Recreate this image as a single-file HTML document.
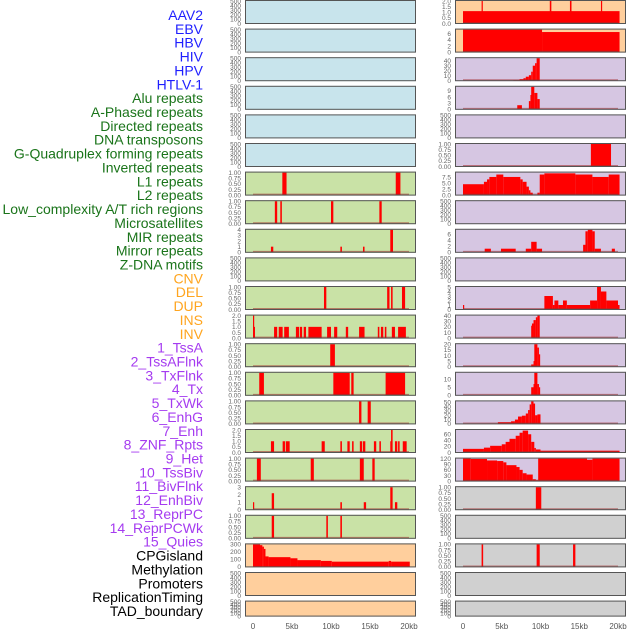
<!DOCTYPE html>
<html><head><meta charset="utf-8">
<style>
html,body{margin:0;padding:0;background:#fff;}
svg{display:block;font-family:"Liberation Sans",sans-serif;}
</style></head>
<body>
<svg id="chart" width="630" height="630" viewBox="0 0 630 630" xmlns="http://www.w3.org/2000/svg"></svg>
<script>
// ---- track labels ----
const labels = ["AAV2","EBV","HBV","HIV","HPV","HTLV-1","Alu repeats","A-Phased repeats","Directed repeats","DNA transposons","G-Quadruplex forming repeats","Inverted repeats","L1 repeats","L2 repeats","Low_complexity A/T rich regions","Microsatellites","MIR repeats","Mirror repeats","Z-DNA motifs","CNV","DEL","DUP","INS","INV","1_TssA","2_TssAFlnk","3_TxFlnk","4_Tx","5_TxWk","6_EnhG","7_Enh","8_ZNF_Rpts","9_Het","10_TssBiv","11_BivFlnk","12_EnhBiv","13_ReprPC","14_ReprPCWk","15_Quies","CPGisland","Methylation","Promoters","ReplicationTiming","TAD_boundary"];
const labelColors = ["#1f1fff","#1f1fff","#1f1fff","#1f1fff","#1f1fff","#1f1fff","#1a741a","#1a741a","#1a741a","#1a741a","#1a741a","#1a741a","#1a741a","#1a741a","#1a741a","#1a741a","#1a741a","#1a741a","#1a741a","#ffa51f","#ffa51f","#ffa51f","#ffa51f","#ffa51f","#a53bf0","#a53bf0","#a53bf0","#a53bf0","#a53bf0","#a53bf0","#a53bf0","#a53bf0","#a53bf0","#a53bf0","#a53bf0","#a53bf0","#a53bf0","#a53bf0","#a53bf0","#000","#000","#000","#000","#000"];
// ---- x axis ----
const xTickKb = [0,5,10,15,20];
const xTickLabels = ["0","5kb","10kb","15kb","20kb"];
// ---- y ticks ----
const ticksEmpty = [0,100,200,300,400,500];
const ticks01 = [0,0.25,0.5,0.75,1];
// ---- left column series: [startKb, endKb, value] ----
const L6 = [[3.76,4.3,1],[18.3,18.9,1]];
const L7 = [[2.8,3.1,1],[3.5,3.7,1],[10.0,10.3,1],[16.2,16.5,1]];
const L8 = [[2.3,2.6,1],[11.2,11.4,1],[14.1,14.3,1],[17.6,17.95,4]];
const L10 = [[9.1,9.4,1],[17.2,17.5,1],[17.7,17.9,1],[19.1,19.5,1]];
const L11 = [[0,0.1,2],[0.1,0.2,1],[2.7,3.1,1],[3.3,3.8,1],[4.0,4.6,1],[5.5,5.9,1],[6.0,6.3,1],[6.5,6.8,1],[7.1,8.8,1],[9.5,10.0,1],[10.4,10.8,1],[11.9,12.2,1],[13.6,14.3,1],[16.0,16.2,1],[16.4,16.7,1],[16.9,17.1,1],[17.8,18.2,1],[18.6,19.6,1]];
const L12 = [[9.9,10.5,1]];
const L13 = [[0.8,1.4,1],[10.3,12.4,1],[12.6,12.9,1],[17.0,19.5,1]];
const L14 = [[13.6,13.9,1],[14.7,15.1,1]];
const L15 = [[2.3,2.7,1],[3.8,4.1,1],[4.2,4.7,1],[8.8,9.2,1],[11.2,11.4,1],[12.1,12.4,1],[12.7,12.9,1],[13.7,14.0,1],[14.1,14.4,1],[15.5,15.8,1],[16.2,16.4,1],[17.6,17.8,1],[17.7,17.9,2],[18.2,18.5,1],[18.6,18.8,1],[19.2,19.7,1]];
const L16 = [[0.5,1.0,1],[7.4,7.8,1],[13.7,14.2,1],[15.3,15.6,1]];
const L17 = [[0,0.1,1],[2.4,2.7,2.2],[11.2,11.4,1],[14.2,14.5,1],[17.6,17.9,3],[18.2,18.5,1]];
const L18 = [[2.4,2.7,1],[9.4,9.6,1],[11.2,11.4,1]];
const L19 = [[0,0.9,300],[0.9,1.2,290],[1.2,1.4,270],[1.4,1.6,240],[1.6,2.0,140],[2.0,4.8,130],[4.8,5.7,115],[5.7,8.7,90],[8.7,10.1,80],[10.1,17.4,70],[17.4,17.7,80],[17.7,20.1,70]];
// ---- right column series ----
const R0 = [[0,20.2,1.1],[2.4,2.5,2],[11.2,11.4,2],[13.8,14.0,2],[17.8,17.9,2]];
const R1 = [[0,10.2,7.4],[10.2,20.2,6.6]];
const R2 = [[6.5,7.3,1],[7.3,7.8,3],[7.8,8.1,5],[8.1,8.5,8],[8.5,8.8,11],[8.8,9.0,18],[9.0,9.3,30],[9.3,9.5,35],[9.5,9.9,45]];
const R3 = [[7.0,7.6,2],[8.5,8.7,4],[8.7,8.8,7],[8.8,9.2,11],[9.2,9.6,8],[9.6,9.9,5]];
const R5 = [[16.5,19.1,1]];
const R6 = [[0,2.7,4.5],[2.7,3.1,5.5],[3.1,3.4,6.5],[3.4,4.3,7.5],[4.3,5.2,8.5],[5.2,7.4,7.5],[7.4,7.7,6.5],[7.7,8.2,5.5],[8.2,8.5,3.5],[8.5,8.7,2],[8.7,9.0,1],[9.6,9.9,1],[9.9,10.5,8.5],[10.5,14.5,9],[14.5,16.7,8.5],[16.7,18.8,7.5],[18.8,20.2,8.5]];
const R8 = [[2.8,3.6,1.2],[4.9,6.8,1.2],[8.1,8.8,1.2],[8.8,9.5,3.5],[9.5,10.2,1.2],[15.5,15.8,2.5],[15.8,16.1,7],[16.1,16.7,7.5],[16.7,17.0,7],[17.0,17.8,1.2],[19.2,19.6,1.2]];
const R10 = [[0,0.1,1],[10.5,11.6,3],[11.6,11.8,1],[11.8,12.3,2],[12.3,12.9,1],[12.9,13.4,2],[13.4,16.4,1],[16.4,17.3,2],[17.3,17.8,5],[17.8,18.5,4],[18.5,20.0,2],[20.0,20.2,1]];
const R11 = [[8.8,8.9,22],[8.9,9.1,26],[9.1,9.4,32],[9.4,9.6,37],[9.6,9.9,40]];
const R12 = [[8.8,9.1,2],[9.1,9.2,5],[9.2,9.6,20],[9.6,9.8,17],[9.8,9.9,11]];
const R13 = [[8.8,9.1,5],[9.1,9.2,7],[9.2,9.6,14],[9.6,9.8,7],[9.8,9.9,5]];
const R14 = [[4.5,6.2,4],[6.2,6.7,6],[6.7,7.1,10],[7.1,7.6,17],[7.6,8.1,19],[8.1,8.4,24],[8.4,8.6,32],[8.6,8.8,45],[8.8,9.1,52],[9.1,9.3,47],[9.3,9.6,20],[9.6,10.0,22]];
const R15 = [[0,2.7,12],[2.7,3.5,16],[3.5,5.0,22],[5.0,5.5,27],[5.5,6.0,35],[6.0,6.8,45],[6.8,7.3,55],[7.3,7.7,65],[7.7,8.4,72],[8.4,8.8,60],[8.8,9.2,35],[9.2,9.4,15],[9.4,10.0,10],[10.0,20.2,6]];
const R16 = [[0,1.0,120],[1.0,3.1,118],[3.1,4.4,110],[4.4,5.2,107],[5.2,5.6,100],[5.6,6.9,85],[6.9,7.3,75],[7.3,7.7,60],[7.7,8.2,42],[8.2,9.0,35],[9.0,9.4,10],[9.4,9.7,5],[9.7,16.0,120],[16.0,16.7,114],[16.7,20.2,120]];
const R17 = [[9.4,10.1,1]];
const R19 = [[2.4,2.6,1],[9.5,9.9,1],[14.2,14.5,1]];

const BLUE="#c8e4ec", GREEN="#c9e2a6", ORANGE="#ffcf9d", PURPLE="#d6c6e2", GRAY="#d0d0d0";
function P(bars,ymax,ticks,tl,bg){return {bars,ymax,ticks,tl,bg};}
const tf2=v=>v.toFixed(2), tf1=v=>v.toFixed(1), ti=v=>String(v);
const E = bg=>P(null,500,ticksEmpty,ti,bg);
const leftPanels = [E(BLUE),E(BLUE),E(BLUE),E(BLUE),E(BLUE),E(BLUE),
 P(L6,1,ticks01,tf2,GREEN),P(L7,1,ticks01,tf2,GREEN),P(L8,4,[0,1,2,3,4],ti,GREEN),E(GREEN),
 P(L10,1,ticks01,tf2,GREEN),P(L11,2,[0,0.5,1,1.5,2],tf1,GREEN),P(L12,1,ticks01,tf2,GREEN),
 P(L13,1,ticks01,tf2,GREEN),P(L14,1,ticks01,tf2,GREEN),P(L15,2,[0,0.5,1,1.5,2],tf1,GREEN),
 P(L16,1,ticks01,tf2,GREEN),P(L17,3,[0,1,2,3],ti,GREEN),P(L18,1,ticks01,tf2,GREEN),
 P(L19,300,[0,100,200,300],ti,ORANGE),E(ORANGE),E(ORANGE)];
const rightPanels = [P(R0,2,[0,0.5,1,1.5,2],tf1,ORANGE),P(R1,7.4,[0,2,4,6],ti,ORANGE),
 P(R2,45,[0,10,20,30,40],ti,PURPLE),P(R3,11,[0,3,6,9],ti,PURPLE),E(PURPLE),P(R5,1,ticks01,tf2,PURPLE),
 P(R6,9.3,[0,2.5,5,7.5],tf1,PURPLE),E(PURPLE),P(R8,7.5,[0,2,4,6],ti,PURPLE),E(PURPLE),
 P(R10,5,[0,1,2,3,4,5],ti,PURPLE),P(R11,40,[0,10,20,30,40],ti,PURPLE),P(R12,20,[0,5,10,15,20],ti,PURPLE),
 P(R13,14,[0,5,10],ti,PURPLE),P(R14,52,[0,10,20,30,40,50],ti,PURPLE),P(R15,74,[0,20,40,60],ti,PURPLE),
 P(R16,120,[0,30,60,90,120],ti,PURPLE),P(R17,1,ticks01,tf2,GRAY),E(GRAY),P(R19,1,ticks01,tf2,GRAY),E(GRAY),E(GRAY)];

const NS="http://www.w3.org/2000/svg";
const svg=document.getElementById('chart');
function el(tag,attrs,parent){const e=document.createElementNS(NS,tag);for(const k in attrs)e.setAttribute(k,attrs[k]);(parent||svg).appendChild(e);return e;}

// labels
labels.forEach((t,i)=>{
  const e=el('text',{x:203,y:15+i*13.86+5,'text-anchor':'end','font-size':14,fill:labelColors[i]});
  e.textContent=t;
  
  
});

const cols=[{x0:245,x1:416,z:253,k:7.8,panels:leftPanels,name:'left'},{x0:455,x1:626,z:463,k:7.75,panels:rightPanels,name:'right'}];
cols.forEach(c=>{
  const xs=kb=>c.z+kb*c.k;
  c.panels.forEach((p,i)=>{
    const top=i*28.6, h=(i===21)?16:24, bot=top+h;
    const g=el('g',{});
    
    
    el('rect',{x:c.x0,y:top,width:c.x1-c.x0,height:h,fill:p.bg},g);
    const ys=v=>bot-0.5-(v/p.ymax)*(h-1.5);
    if(p.bars){
      p.bars.forEach(b=>{
        const r=el('rect',{x:xs(b[0]),y:ys(b[2]),width:Math.max(1.2,xs(b[1])-xs(b[0])),height:bot-0.5-ys(b[2]),fill:'#ff0000'},g);
        
        
      });
      if(i!==19||c.name==='right'){
        el('line',{x1:xs(0),x2:xs(20),y1:bot-1.2,y2:bot-1.2,stroke:'rgba(160,40,40,0.55)','stroke-width':1.5},g);
      }
    }
    el('rect',{x:c.x0+0.5,y:top+0.5,width:c.x1-c.x0-1,height:h-1,fill:'none',stroke:'#555','stroke-width':1},g);
    p.ticks.forEach(v=>{
      const t=el('text',{x:c.x0-4,y:ys(v)+2.3,'text-anchor':'end','font-size':6.5,fill:'#666'},g);
      t.textContent=p.tl(v);
      
      
    });
  });
  xTickKb.forEach((kb,j)=>{
    const t=el('text',{x:xs(kb),y:629,'text-anchor':'middle','font-size':8,fill:'#555'});
    t.textContent=xTickLabels[j];
    
    
  });
});
</script>
</body></html>
